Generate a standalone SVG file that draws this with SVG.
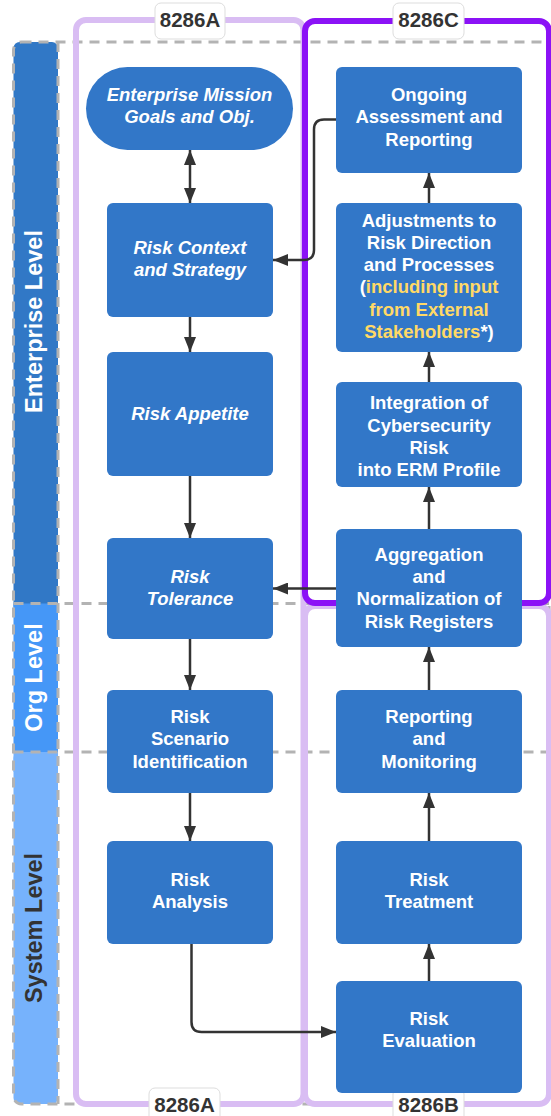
<svg xmlns="http://www.w3.org/2000/svg" width="551" height="1116" viewBox="0 0 551 1116">
<defs>
<style>
.node{fill:#3277c8;}
.t{font-family:"Liberation Sans",Arial,sans-serif;font-weight:bold;font-size:18.5px;fill:#ffffff;text-anchor:middle;}
.it{font-style:italic;}
.y{fill:#ffd966;}
.lbl{font-family:"Liberation Sans",Arial,sans-serif;font-weight:bold;font-size:20.5px;fill:#333333;text-anchor:middle;}
.lblbox{fill:#ffffff;stroke:#dddddd;stroke-width:1;}
.band{font-family:"Liberation Sans",Arial,sans-serif;font-weight:bold;font-size:23.5px;text-anchor:middle;}
.dash{fill:none;stroke:#b3b3b3;stroke-width:3;stroke-dasharray:10 7;}
.conn{fill:none;stroke:#333333;stroke-width:2.5;}
</style>
<marker id="arr" viewBox="0 0 15 12" refX="15" refY="6" markerWidth="15" markerHeight="12" markerUnits="userSpaceOnUse" orient="auto-start-reverse">
<path d="M0,0 L15,6 L0,12 Z" fill="#333333"/>
</marker>
</defs>
<rect width="551" height="1116" fill="#ffffff"/>

<g id="lanes">
<rect x="13.5" y="42" width="44.5" height="570" rx="6" fill="#3178c6"/>
<rect x="13.5" y="603.5" width="44.5" height="148.5" fill="#4597f7"/>
<rect x="13.5" y="752" width="44.5" height="352" rx="6" fill="#76b2fc"/>
<rect x="13.5" y="752" width="44.5" height="20" fill="#76b2fc"/>
<rect class="dash" x="13.5" y="42" width="535.5" height="1062" rx="8"/>
<line class="dash" x1="13.5" y1="603.5" x2="549" y2="603.5"/>
<line class="dash" x1="13.5" y1="752" x2="549" y2="752"/>
<line class="dash" x1="58" y1="42" x2="58" y2="1104"/>
<text class="band" fill="#ffffff" transform="translate(41.5,321.5) rotate(-90)">Enterprise Level</text>
<text class="band" fill="#ffffff" transform="translate(41.5,677.5) rotate(-90)">Org Level</text>
<text class="band" fill="#333333" transform="translate(41.5,928) rotate(-90)">System Level</text>
</g>

<g id="containers">
<rect id="c8286A" x="76" y="20" width="227.5" height="1084" rx="10" fill="none" stroke="#d9bdf3" stroke-width="6"/>
<rect id="c8286B" x="305" y="606" width="244" height="498" rx="10" fill="none" stroke="#d9bdf3" stroke-width="6"/>
<rect id="c8286C" x="305" y="21" width="244" height="582" rx="10" fill="none" stroke="#8b12f6" stroke-width="6"/>
<rect class="lblbox" x="155" y="3" width="70" height="36" rx="6"/>
<text class="lbl" x="190" y="26.5">8286A</text>
<rect class="lblbox" x="393" y="3" width="71" height="36" rx="6"/>
<text class="lbl" x="428.5" y="26.5">8286C</text>
<rect class="lblbox" x="149" y="1088" width="71" height="36" rx="6"/>
<text class="lbl" x="184.5" y="1112">8286A</text>
<rect class="lblbox" x="393" y="1088" width="71" height="36" rx="6"/>
<text class="lbl" x="428.5" y="1112">8286B</text>
</g>

<g id="connectors">
<path class="conn" d="M190,150 V203" marker-start="url(#arr)" marker-end="url(#arr)"/>
<path class="conn" d="M190,317 V352" marker-end="url(#arr)"/>
<path class="conn" d="M190,476 V538" marker-end="url(#arr)"/>
<path class="conn" d="M190,639 V690" marker-end="url(#arr)"/>
<path class="conn" d="M190,793 V841" marker-end="url(#arr)"/>
<path class="conn" d="M191.5,944 V1022 Q191.5,1032 201.5,1032 H336" stroke-width="2" marker-end="url(#arr)"/>
<path class="conn" d="M429,981 V944" marker-end="url(#arr)"/>
<path class="conn" d="M429,841 V793" marker-end="url(#arr)"/>
<path class="conn" d="M429,690 V647" marker-end="url(#arr)"/>
<path class="conn" d="M429,529 V487" marker-end="url(#arr)"/>
<path class="conn" d="M429,382 V352" marker-end="url(#arr)"/>
<path class="conn" d="M429,203 V173" marker-end="url(#arr)"/>
<path class="conn" d="M336,119.5 H324 Q314,119.5 314,129.5 V250 Q314,260 304,260 H273" marker-end="url(#arr)"/>
<path class="conn" d="M336,588.5 H273" marker-end="url(#arr)"/>
</g>

<g id="n-mission">
<rect class="node" x="86" y="67" width="207" height="83" rx="41.5"/>
<text class="t it"><tspan x="189.5" y="100.5">Enterprise Mission</tspan><tspan x="189.5" y="123">Goals and Obj.</tspan></text>
</g>
<g id="n-context">
<rect class="node" x="107" y="203" width="166" height="114" rx="6"/>
<text class="t it"><tspan x="190" y="253.5">Risk Context</tspan><tspan x="190" y="276">and Strategy</tspan></text>
</g>
<g id="n-appetite">
<rect class="node" x="107" y="352" width="166" height="124" rx="6"/>
<text class="t it" x="190" y="419.5">Risk Appetite</text>
</g>
<g id="n-tolerance">
<rect class="node" x="107" y="538" width="166" height="101" rx="6"/>
<text class="t it"><tspan x="190" y="582.5">Risk</tspan><tspan x="190" y="605">Tolerance</tspan></text>
</g>
<g id="n-scenario">
<rect class="node" x="107" y="690" width="166" height="103" rx="6"/>
<text class="t"><tspan x="190" y="722.7">Risk</tspan><tspan x="190" y="745">Scenario</tspan><tspan x="190" y="767.5">Identification</tspan></text>
</g>
<g id="n-analysis">
<rect class="node" x="107" y="841" width="166" height="103" rx="6"/>
<text class="t"><tspan x="190" y="886">Risk</tspan><tspan x="190" y="908.3">Analysis</tspan></text>
</g>
<g id="n-ongoing">
<rect class="node" x="336" y="67" width="186" height="106" rx="6"/>
<text class="t"><tspan x="429" y="100.7">Ongoing</tspan><tspan x="429" y="123.3">Assessment and</tspan><tspan x="429" y="146">Reporting</tspan></text>
</g>
<g id="n-adjust">
<rect class="node" x="336" y="203" width="186" height="149" rx="6"/>
<text class="t"><tspan x="429" y="226.7">Adjustments to</tspan><tspan x="429" y="249">Risk Direction</tspan><tspan x="429" y="271">and Processes</tspan><tspan x="429" y="293.3">(<tspan class="y">including input</tspan></tspan><tspan x="429" y="315.7" class="y">from External</tspan><tspan x="429" y="337.7"><tspan class="y">Stakeholders</tspan>*)</tspan></text>
</g>
<g id="n-integration">
<rect class="node" x="336" y="382" width="186" height="105" rx="6"/>
<text class="t"><tspan x="429" y="409">Integration of</tspan><tspan x="429" y="431.5">Cybersecurity</tspan><tspan x="429" y="454">Risk</tspan><tspan x="429" y="476">into ERM Profile</tspan></text>
</g>
<g id="n-aggregation">
<rect class="node" x="336" y="529" width="186" height="118" rx="6"/>
<text class="t"><tspan x="429" y="560.7">Aggregation</tspan><tspan x="429" y="583">and</tspan><tspan x="429" y="605">Normalization of</tspan><tspan x="429" y="627.5">Risk Registers</tspan></text>
</g>
<g id="n-reporting">
<rect class="node" x="336" y="690" width="186" height="103" rx="6"/>
<text class="t"><tspan x="429" y="722.7">Reporting</tspan><tspan x="429" y="745">and</tspan><tspan x="429" y="767.5">Monitoring</tspan></text>
</g>
<g id="n-treatment">
<rect class="node" x="336" y="841" width="186" height="103" rx="6"/>
<text class="t"><tspan x="429" y="886">Risk</tspan><tspan x="429" y="908.3">Treatment</tspan></text>
</g>
<g id="n-evaluation">
<rect class="node" x="336" y="981" width="186" height="112" rx="6"/>
<text class="t"><tspan x="429" y="1025">Risk</tspan><tspan x="429" y="1047.3">Evaluation</tspan></text>
</g>
</svg>
